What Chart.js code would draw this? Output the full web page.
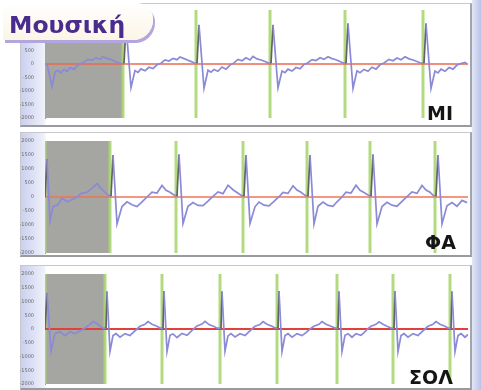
<!DOCTYPE html>
<html><head><meta charset="utf-8">
<script src="https://cdn.jsdelivr.net/npm/chart.js@4.4.0/dist/chart.umd.min.js"></script>
<style>
html,body{margin:0;padding:0;}
body{width:481px;height:390px;position:relative;overflow:hidden;background:#fff;font-family:"DejaVu Sans";}
.rstrip{position:absolute;left:472px;top:0;width:9px;height:390px;background:linear-gradient(to right,#e2e6f6,#b9c3e9);}
.frame{position:absolute;left:20px;width:452px;box-sizing:border-box;border:1px solid #c8c8cc;border-bottom:2px solid #9a9aa0;border-right:2px solid #a4a4ac;background:linear-gradient(to right,#cbd0ef 0px,#e6e9f7 18px,#f1f2fa 24px,#ffffff 25px);}
canvas{position:absolute;left:20px;}
.tab{position:absolute;left:3px;top:3px;width:150px;height:37px;background:linear-gradient(#ffffff,#fbf5e6);border-radius:0 16px 20px 0;box-shadow:2px 3px 0 #b3a6de;}
.tab span{position:absolute;left:6px;top:10px;font:bold 23.5px "DejaVu Sans";line-height:24px;color:#4a2c8e;white-space:nowrap;}
.note{position:absolute;font:bold 19px "DejaVu Sans";line-height:20px;color:#151515;white-space:nowrap;}
</style></head>
<body>
<div class="rstrip"></div>
<div class="frame" style="top:3px;height:124px;"></div>
<div class="frame" style="top:132px;height:125px;"></div>
<div class="frame" style="top:265px;height:125px;"></div>
<canvas id="c1" width="450" height="120" style="top:4px;"></canvas>
<canvas id="c2" width="450" height="124" style="top:135px;"></canvas>
<canvas id="c3" width="450" height="122" style="top:268px;"></canvas>
<div class="tab"><span>Μουσική</span></div>
<div class="note" style="left:427px;top:103px;">MI</div>
<div class="note" style="left:425px;top:232px;">ΦΑ</div>
<div class="note" style="left:409px;top:367px;">ΣΟΛ</div>
<script>
// ---- data (time in ms, amplitude) ----
const X_MAX = 423;
const Y_MIN = -2000, Y_MAX = 2000;
const tickValues = [2000, 1500, 1000, 500, 0, -500, -1000, -1500, -2000];
const tickLabels = ['2000', '1500', '1000', '500', '0', '-500', '-1000', '-1500', '-2000'];
const noteLabels = ['MI', 'ΦΑ', 'ΣΟΛ'];

// MI
const miX = [2,7,10,13,16,19,22,25,29,32,35,39,43,47,51,55,58,62,66,70,74,77,
  79,81,86,90,93,96,100,104,108,112,116,120,124,128,132,135,139,143,147,150,
  152,154,159,163,166,169,173,177,181,185,189,193,197,201,205,208,212,216,220,224,
  226,228,233,237,240,243,247,251,255,259,263,267,271,275,279,283,287,291,295,299,
  301,303,308,312,315,319,323,327,331,335,339,344,348,352,356,360,364,368,372,376,
  379,381,386,390,393,396,400,404,408,412,416,420,422];
const miY = [0,-840,-300,-235,-335,-200,-270,-135,-200,-70,0,70,170,135,235,170,270,200,170,100,35,10,
  30,1420,-870,-240,-310,-180,-250,-120,-170,-30,30,150,110,210,160,260,200,140,80,20,
  30,1450,-900,-230,-300,-200,-270,-110,-190,-40,40,170,120,230,150,280,190,150,90,25,
  30,1450,-880,-260,-320,-190,-260,-130,-180,-20,50,160,130,230,170,270,200,160,90,30,
  30,1500,-900,-250,-320,-200,-270,-120,-190,-30,40,170,120,220,160,270,190,150,90,30,
  30,1500,-900,-260,-330,-190,-270,-130,-190,-40,20,60,0];
const miGreen = [78, 151, 225, 300, 378];
const miGreyEnd = 78;

// FA
const faX = [0,2,5,8,13,17,22,27,32,37,42,47,52,55,60,63,
  66,68,72,77,82,87,92,97,102,107,112,117,121,125,129,
  132,134,138,143,148,153,158,163,168,173,178,183,188,192,196,
  199,201,205,210,214,219,224,229,234,238,243,248,252,256,260,
  263,265,269,273,278,283,288,292,297,301,306,311,315,319,323,
  326,328,332,337,342,347,352,357,362,367,372,377,381,385,388,
  391,393,397,402,407,412,417,422];
const faY = [0,1350,-860,-345,-280,-35,-170,-100,0,140,170,310,480,345,170,70,
  30,1500,-960,-340,-170,-280,-340,-170,0,170,140,410,240,170,70,
  30,1520,-950,-330,-200,-300,-310,-150,20,180,120,420,260,160,60,
  30,1500,-940,-350,-180,-290,-320,-160,10,160,130,400,250,170,60,
  30,1500,-960,-330,-180,-300,-330,-170,0,170,140,420,240,160,70,
  30,1520,-960,-340,-190,-290,-330,-160,10,180,130,410,250,170,60,
  30,1500,-960,-310,-200,-330,-120,-200];
const faGreen = [0, 65, 131, 198, 262, 325, 390];
const faGreyEnd = 65;

// SOL
const solX = [0,2,6,10,15,20,25,30,35,40,45,48,52,55,58,
  61,62,65,68,71,75,80,85,88,92,95,100,103,107,112,115,
  118,119,122,125,128,132,137,142,145,149,152,157,160,164,169,172,
  176,177,180,183,186,190,195,200,203,207,210,215,218,222,227,230,
  233,234,237,240,243,247,252,257,261,265,269,274,277,281,286,290,
  293,294,297,300,303,307,311,316,319,323,326,331,334,338,342,346,
  349,350,353,356,359,363,368,373,376,380,383,388,391,395,400,403,
  406,407,410,413,416,420,423];
const solY = [0,1300,-800,-170,-100,-240,-100,-170,-70,35,170,270,200,100,35,
  30,1360,-810,-240,-170,-300,-170,-240,-130,0,100,170,270,170,100,35,
  30,1380,-820,-230,-180,-310,-160,-230,-120,10,110,180,280,160,90,30,
  30,1360,-800,-250,-170,-290,-170,-240,-130,0,100,160,270,170,100,40,
  30,1380,-820,-240,-170,-300,-170,-240,-130,0,100,170,270,170,100,35,
  30,1360,-810,-230,-170,-300,-170,-230,-130,10,100,170,260,170,100,35,
  30,1370,-820,-240,-170,-300,-170,-240,-130,0,100,170,270,170,100,35,
  30,1360,-820,-240,-170,-300,-200];
const solGreen = [0, 60, 117, 175, 232, 292, 348, 405];
const solGreyEnd = 60;

function pts(xs, ys) { return xs.map((x, i) => ({x: x, y: ys[i]})); }
function greenPts(gs) {
  const out = [];
  gs.forEach(g => { out.push({x: g, y: Y_MIN}, {x: g, y: Y_MAX}, {x: g, y: null}); });
  return out;
}

function makeChart(id, xs, ys, greens, greyEnd, redColor, redWidth) {
  new Chart(document.getElementById(id), {
    type: 'line',
    data: {datasets: [
      {data: pts(xs, ys), borderColor: '#8a8ad6', borderWidth: 1.7, pointRadius: 0, tension: 0, order: 1,
        segment: {borderColor: c => (c.p1.parsed.y - c.p0.parsed.y > 700 ? '#62626a' : undefined)}},
      {data: [{x: 0, y: 0}, {x: X_MAX, y: 0}], borderColor: redColor, borderWidth: redWidth, pointRadius: 0, order: 2},
      {data: greenPts(greens), borderColor: 'rgba(170,214,112,0.9)', borderWidth: 3, pointRadius: 0, spanGaps: false, order: 3},
      {data: [{x: 0, y: Y_MAX}, {x: greyEnd, y: Y_MAX}], borderWidth: 0, borderColor: 'rgba(0,0,0,0)',
        backgroundColor: '#a5a5a2', fill: {value: Y_MIN}, pointRadius: 0, order: 4}
    ]},
    options: {
      responsive: false, animation: false, events: [],
      layout: {padding: {top: 4, bottom: 4, right: 2, left: 0}},
      plugins: {legend: {display: false}, tooltip: {enabled: false}},
      scales: {
        x: {type: 'linear', min: 0, max: X_MAX, display: false},
        y: {min: Y_MIN, max: Y_MAX,
          afterBuildTicks: s => { s.ticks = tickValues.map(v => ({value: v})); },
          afterFit: s => { s.width = 25; },
          grid: {display: false},
          border: {display: true, color: '#9a9aa0', width: 1},
          ticks: {font: {size: 5, family: 'DejaVu Sans'}, color: '#6a6a70', padding: 3, autoSkip: false,
            callback: v => tickLabels[tickValues.indexOf(v)]}}
      }
    }
  });
}

makeChart('c1', miX, miY, miGreen, miGreyEnd, '#ea6a50', 1.4);
makeChart('c2', faX, faY, faGreen, faGreyEnd, '#ef7558', 1.5);
makeChart('c3', solX, solY, solGreen, solGreyEnd, '#e2403a', 2);
</script>
</body></html>
